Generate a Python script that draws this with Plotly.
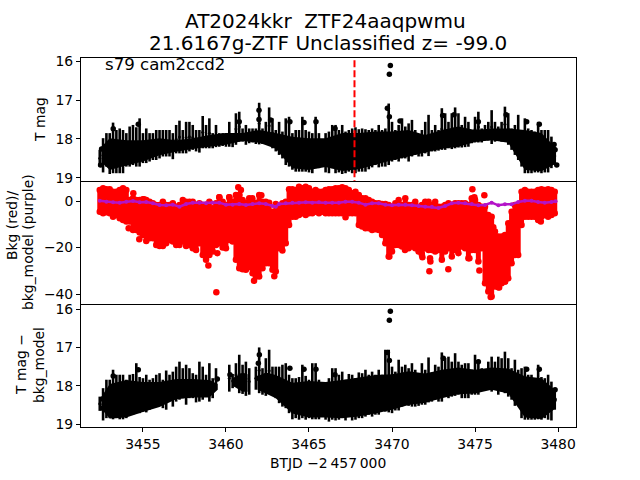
import plotly.graph_objects as go

t = [
3452.4,3452.6,3452.8,3453.0,3453.2,3453.4,3453.6,3453.8,3454.0,3454.2,
3454.4,3454.6,3454.8,3455.0,3455.2,3455.4,3455.6,3455.8,3456.0,3456.2,
3456.4,3456.6,3456.8,3457.0,3457.2,3457.4,3457.6,3457.8,3458.0,3458.2,
3458.4,3458.6,3458.8,3459.0,3459.2,3459.4,3459.6,3459.8,3460.0,3460.2,
3460.4,3460.6,3460.8,3461.0,3461.2,3461.4,3461.6,3461.8,3462.0,3462.2,
3462.4,3462.6,3462.8,3463.0,3463.2,3463.4,3463.6,3463.8,3464.0,3464.2,
3464.4,3464.6,3464.8,3465.0,3465.2,3465.4,3465.6,3465.8,3466.0,3466.2,
3466.4,3466.6,3466.8,3467.0,3467.2,3467.4,3467.6,3467.8,3468.0,3468.2,
3468.4,3468.6,3468.8,3469.0,3469.2,3469.4,3469.6,3469.8,3470.0,3470.2,
3470.4,3470.6,3470.8,3471.0,3471.2,3471.4,3471.6,3471.8,3472.0,3472.2,
3472.4,3472.6,3472.8,3473.0,3473.2,3473.4,3473.6,3473.8,3474.0,3474.2,
3474.4,3474.6,3474.8,3475.0,3475.2,3475.4,3475.6,3475.8,3476.0,3476.2,
3476.4,3476.6,3476.8,3477.0,3477.2,3477.4,3477.6,3477.8,3478.0,3478.2,
3478.4,3478.6,3478.8,3479.0,3479.2,3479.4,3479.6,3479.8]

mag_bright = [
18.28,17.98,17.85,17.85,17.58,17.77,17.73,17.77,17.85,17.68,
17.64,17.70,17.47,17.85,17.73,17.85,17.85,17.77,17.77,17.77,
17.77,17.77,17.85,17.64,17.53,17.77,17.56,17.56,17.64,17.77,
17.77,17.41,17.64,17.47,17.85,17.64,17.85,17.85,17.85,17.56,
17.85,17.34,17.30,17.73,17.64,17.73,17.73,17.73,17.07,17.73,
17.56,17.19,17.47,17.77,17.56,17.81,17.47,17.43,17.85,17.77,
17.77,17.43,17.77,17.81,17.85,17.43,17.85,18.11,17.85,17.81,
17.64,17.64,17.77,17.64,17.81,17.77,17.73,17.70,17.75,17.73,
17.75,17.77,17.73,17.77,17.64,17.77,17.73,17.09,17.56,17.77,
17.64,17.47,17.68,17.60,17.51,17.77,18.03,17.77,17.56,17.38,
17.77,17.64,17.77,17.21,17.34,17.56,17.34,17.19,17.34,17.64,
17.43,17.56,17.77,17.43,17.30,17.73,17.64,17.56,17.26,17.56,
17.68,17.56,17.17,17.34,17.73,17.64,17.38,17.77,17.47,17.73,
17.77,17.81,17.56,17.77,17.77,17.77,17.94,18.20]

mag_faint = [
18.71,18.86,18.71,18.90,18.88,18.88,18.88,18.88,18.71,18.71,
18.67,18.71,18.71,18.62,18.62,18.58,18.54,18.54,18.50,18.45,
18.45,18.45,18.52,18.37,18.37,18.37,18.37,18.32,18.28,18.32,
18.35,18.24,18.24,18.24,18.24,18.21,18.20,18.18,18.20,18.20,
18.21,18.15,18.07,18.07,18.15,18.11,18.09,18.13,18.14,18.13,
18.13,18.13,18.24,18.32,18.41,18.50,18.67,18.71,18.79,18.84,
18.84,18.84,18.84,18.86,18.88,18.75,18.75,18.69,18.86,18.88,
18.75,18.88,18.86,18.90,18.88,18.84,18.88,18.88,18.84,18.84,
18.84,18.78,18.73,18.67,18.73,18.71,18.71,18.67,18.58,18.54,
18.58,18.50,18.50,18.58,18.45,18.41,18.45,18.45,18.37,18.44,
18.32,18.32,18.30,18.28,18.28,18.24,18.26,18.24,18.22,18.22,
18.21,18.20,18.11,18.09,18.09,18.09,18.04,18.04,18.13,18.07,
18.04,18.07,18.07,18.15,18.28,18.41,18.54,18.71,18.88,18.88,
18.88,18.86,18.86,18.88,18.86,18.86,18.75,18.67]

body_t = [3452.5,3453,3454,3455,3456,3457,3458,3459,3460,3461,3462,3463,3464,3465,3466,
          3467,3468,3469,3470,3471,3472,3473,3474,3475,3476,3477,3478,3479,3479.8]
body_bright = [18.20,17.98,18.03,18.03,17.98,18.03,17.98,17.90,17.85,17.85,17.77,17.85,17.94,17.98,17.98,
               17.85,17.85,17.81,17.81,17.77,17.90,17.77,17.68,17.77,17.73,17.73,17.77,17.85,18.20]
body_faint = [18.60,18.80,18.68,18.58,18.42,18.33,18.26,18.20,18.15,18.05,18.10,18.25,18.75,18.80,18.72,
              18.82,18.78,18.66,18.55,18.45,18.35,18.25,18.20,18.08,18.03,18.10,18.80,18.83,18.65]

dots_t = [3453.21,3454.72,3461.99,3461.99,3460.80,3462.69,3463.85,3464.70,3465.42,3466.57,3452.51,3452.45,
          3469.90,3469.84,3469.72,3469.84,3470.48,3473.05,3473.74,3476.87,3478.11,3478.87,3475.20,3479.76,3479.82,3479.92]
dots_mag = [17.74,17.62,17.26,17.50,17.56,17.51,17.56,17.58,17.56,17.73,18.26,18.67,
            16.11,16.34,17.21,17.43,17.54,17.40,17.38,17.38,17.56,17.62,17.56,18.14,18.28,18.67]

bkg_top = [
4.72,5.43,5.0,5.0,4.0,4.0,4.72,5.43,4.72,0.43,
1.14,0.43,0.43,0.71,0.43,-0.29,-1.0,-1.72,-1.72,-0.29,
-1.72,-1.72,-1.0,-2.43,-1.72,0.43,-0.29,-0.29,-0.29,-1.72,
-1.0,-1.72,-1.72,-0.29,-3.15,-1.0,1.57,-0.29,-1.72,1.57,
-0.29,2.57,2.57,0.43,-0.72,1.14,-1.0,-0.72,2.57,-0.29,
-0.29,-0.72,-4.58,-1.29,-2.15,-1.0,-0.29,5.0,5.0,4.72,
6.15,5.43,6.15,5.43,4.0,4.72,4.0,4.0,4.72,5.0,
5.0,5.43,
5.43,5.86,5.43,4.72,3.29,4.0,2.57,1.14,
1.14,0.43,-0.29,-1.0,-1.0,-1.29,-1.29,-1.72,-2.43,-1.0,
0.43,-1.72,1.14,-1.72,-1.72,-0.29,-2.43,-1.72,-0.29,-0.29,
-1.72,-0.29,-2.43,-2.43,-1.72,-1.0,-1.72,-1.0,-1.0,-1.0,
-1.0,-1.72,1.14,0.43,-1.72,-2.43,-2.43,-6.01,-6.73,-13.16,
-15.3,-15.3,-14.6,-9.59,-4.58,-1.72,-1.72,4.0,4.72,4.0,
4.0,4.0,4.72,5.0,4.72,5.0,4.72,4.0]

bkg_low = [
-4.58,-5.3,-4.87,-5.3,-6.73,-6.01,-7.44,-8.16,-8.87,-8.87,
-12.45,-12.45,-13.59,-14.6,-17.17,-16.03,-16.03,-18.89,-19.32,-19.32,
-18.17,-16.74,-17.46,-18.89,-18.89,-17.46,-19.32,-18.89,-20.32,-21.03,
-18.17,-23.18,-25.32,-23.18,-21.75,-18.89,-18.17,-20.03,-20.32,-16.74,
-17.46,-25.32,-28.9,-29.33,-29.62,-28.47,-31.05,-32.48,-32.48,-28.9,
-26.75,-26.75,-29.62,-30.33,-20.32,-21.32,-18.17,-10.3,-6.73,-6.73,
-6.01,-5.3,-6.01,-5.3,-5.3,-4.58,-5.3,-4.58,-5.3,-5.3,
-5.3,-5.3,
-5.3,-5.3,-7.01,-5.3,-5.3,-5.3,-10.3,-11.02,
-11.73,-11.73,-12.45,-12.16,-12.45,-14.6,-18.17,-23.89,-21.75,-18.89,
-18.89,-19.6,-20.32,-20.32,-19.6,-20.32,-21.75,-23.18,-20.32,-21.03,
-21.03,-21.75,-21.03,-25.32,-21.75,-20.32,-23.89,-21.03,-22.46,-19.6,
-20.32,-24.61,-21.03,-21.03,-26.04,-20.32,-35.34,-38.9,-41.06,-36.77,
-37.06,-35.34,-34.62,-33.19,-26.75,-23.18,-23.18,-10.3,-6.73,-6.73,
-6.73,-6.73,-8.16,-6.73,-6.01,-6.73,-6.01,-5.3]

bkg_out_t = [3454.14,3454.78,3454.42,3455.06,3459.42,3459.48,3458.94,3462.91,3461.69,3460.74,3460.90,3461.59,3462.13,3460.80,3460.20,3459.60,
             3474.84,3475.56,3474.96,3476.10,3472.29,3472.31,3472.25,3473.39,3471.79,3471.83,3475.26,3474.66,3476.45,3475.94,3476.81,3478.96,3469.84,3470.78]
bkg_out = [-11.73,-16.46,3.29,0.71,-39.2,-22.46,-27.76,-32.33,-34.34,5.86,4.72,1.14,2.43,2.57,1.57,1.57,
           5.0,2.43,1.57,-11.3,-24.61,-26.04,-30.19,-29.33,-22.46,-24.18,-29.9,-24.6,-37.2,-41.3,-34.6,-8.87,-23.89,-21.03]

model_t = [
3452.4,3452.8,3453.2,3453.6,3454.0,3454.4,3454.8,3455.2,3455.6,3456.0,
3456.4,3456.8,3457.2,3457.6,3458.0,3458.4,3458.8,3459.2,3459.6,3460.0,
3460.4,3460.8,3461.2,3461.6,3462.0,3462.4,3462.8,3463.0,3463.2,3463.6,
3464.0,3464.4,3464.8,3465.2,3465.6,3466.0,3466.4,3466.8,
3467.2,3467.6,3468.0,3468.4,3468.8,3469.2,3469.6,3470.0,3470.4,3470.8,
3471.2,3471.6,3472.0,3472.4,3472.8,3473.2,3473.6,3474.0,3474.4,3474.8,
3475.2,3475.6,3476.0,3476.4,3476.8,3477.2,3477.6,3478.0,3478.4,3478.8,
3479.2,3479.6,3479.85]
model = [
0.14,-0.29,-0.57,-0.72,-0.29,0.0,-0.57,-0.43,-1.0,-1.72,
-1.86,-1.57,-2.43,-1.29,-0.72,-0.72,-1.0,-0.72,-0.72,-1.57,
-1.57,-1.29,-1.72,-1.29,-1.0,-1.29,-2.15,-2.43,-1.29,-1.0,
-0.72,-0.72,-0.57,-0.72,-0.57,-0.72,-0.72,-0.72,
-0.29,-0.29,-0.72,-1.57,-1.0,-1.0,-1.57,-1.86,-1.57,-1.57,
-1.86,-2.15,-2.43,-2.43,-3.0,-2.15,-1.0,-0.72,-1.0,-1.29,
-1.86,-1.72,-0.72,-1.86,-1.43,-1.43,-0.43,0.14,0.14,-0.43,
-0.72,-0.43,-0.14]

diff_bright = [
18.28,18.06,17.84,17.84,17.58,17.71,17.71,17.71,17.84,17.71,
17.69,17.41,17.77,17.80,17.71,17.84,17.80,17.71,17.67,17.84,
17.60,17.71,17.63,17.50,17.37,17.54,17.45,17.54,17.67,17.71,
17.37,17.50,17.71,17.41,17.80,17.54,None,None,None,17.45,
17.69,17.41,17.19,17.45,17.37,17.54,None,17.50,17.00,17.54,
17.28,17.06,17.50,17.50,17.50,17.45,17.41,17.71,17.80,17.80,
17.77,17.45,17.74,17.84,17.41,17.41,17.84,18.19,17.93,17.80,
17.54,17.54,
17.71,17.63,17.84,17.69,17.71,17.80,17.65,17.67,
17.58,17.71,17.63,17.71,17.58,17.71,17.06,17.06,17.50,17.63,
17.32,17.50,17.45,17.54,17.41,17.58,17.71,17.41,17.58,17.26,
17.65,17.45,17.50,17.13,17.28,17.24,17.37,17.15,17.37,17.45,
17.41,17.41,17.58,17.19,17.32,17.54,17.58,17.37,17.24,17.37,
17.24,17.28,17.11,17.28,17.54,17.32,17.58,17.54,17.50,17.71,
17.71,17.80,17.45,17.77,17.80,17.71,17.89,18.06]

diff_faint = [
18.65,18.90,18.84,18.84,18.87,18.84,18.87,18.87,18.84,18.75,
18.75,18.71,18.71,18.67,18.69,18.62,18.41,18.32,18.32,18.58,
18.62,18.36,18.54,18.41,18.36,18.32,18.49,18.32,18.32,18.43,
18.41,18.36,18.28,18.41,18.32,18.10,None,None,None,18.15,
18.06,18.03,18.19,18.21,18.26,18.23,None,18.10,18.19,18.23,
18.26,18.15,18.23,18.32,18.45,18.54,18.58,18.71,18.87,18.84,
18.88,18.84,18.88,18.84,18.87,18.87,18.87,18.71,18.88,18.93,
18.88,18.90,
18.88,18.80,18.90,18.75,18.90,18.88,18.84,18.84,
18.80,18.75,18.80,18.75,18.75,18.54,18.67,18.69,18.71,18.64,
18.64,18.54,18.49,18.52,18.54,18.54,18.52,18.49,18.49,18.43,
18.41,18.36,18.41,18.41,18.10,18.32,18.28,18.26,18.23,18.32,
18.32,18.32,18.23,18.23,18.23,18.02,18.10,18.10,18.15,18.10,
18.23,18.15,18.19,18.28,18.36,18.52,18.41,18.84,18.88,18.88,
18.88,18.88,18.87,18.88,18.84,18.88,18.90,18.62]

diff_body_t = [3452.5,3453,3454,3455,3456,3457,3458,3459,3459.5,None,
               3460.4,3461,3461.3,None,
               3461.9,3462.4,3463,3464,3465,3466,3467,3468,3469,3470,3471,3472,3473,3474,3475,3476,3477,3478,3479,3479.8]
diff_body_bright = [18.28,17.95,17.85,17.90,17.90,17.82,17.82,17.85,17.95,None,
                    17.80,17.65,17.70,None,
                    17.75,17.65,17.72,17.92,17.87,17.90,17.85,17.78,17.72,17.70,17.62,17.68,17.58,17.52,17.58,17.52,17.55,17.75,17.80,18.10]
diff_body_faint = [18.60,18.85,18.82,18.68,18.55,18.35,18.30,18.30,18.10,None,
                   18.00,18.15,18.15,None,
                   18.10,18.20,18.32,18.72,18.82,18.82,18.84,18.80,18.72,18.62,18.50,18.44,18.32,18.22,18.20,18.10,18.20,18.82,18.86,18.60]

diff_dots_t = [3453.21,3454.72,3462.01,3461.95,3461.95,3464.70,3465.42,3463.85,3459.48,3460.24,3452.57,3452.57,3466.57,
               3469.90,3469.84,3469.72,3469.84,3478.87,3478.11,3475.20,3473.09,3479.82,3479.76]
diff_dots = [17.74,17.58,17.19,17.41,17.80,17.57,17.57,17.54,17.82,17.71,18.34,18.58,17.71,
             16.06,16.29,17.13,17.34,17.57,17.57,17.37,17.28,18.10,18.36]

event_t = 3467.74
x_ticks = [3455, 3460, 3465, 3470, 3475, 3480]


def bars(xs, hi, lo, color, thick, axis, msize=3):
    kept = [(x, a, b) for x, a, b in zip(xs, hi, lo) if a is not None]
    return go.Scatter(
        x=[k[0] for k in kept],
        y=[(k[1] + k[2]) / 2 for k in kept],
        mode="markers",
        marker=dict(color=color, size=msize),
        error_y=dict(type="data", symmetric=True,
                     array=[abs(k[2] - k[1]) / 2 for k in kept],
                     color=color, thickness=thick, width=0),
        xaxis=axis[0], yaxis=axis[1], showlegend=False, hoverinfo="skip")


def dots(xs, ys, color, size, axis):
    return go.Scatter(x=xs, y=ys, mode="markers", marker=dict(color=color, size=size),
                      xaxis=axis[0], yaxis=axis[1], showlegend=False, hoverinfo="skip")


def body(xs, hi, lo, axis):
    """Solid core of the overlapping error bars, split at data gaps."""
    px, py, sx, sh, sl = [], [], [], [], []
    for x, a, b in list(zip(xs, hi, lo)) + [(None, None, None)]:
        if x is None:
            px += sx + sx[::-1] + [None]
            py += sh + sl[::-1] + [None]
            sx, sh, sl = [], [], []
        else:
            sx.append(x); sh.append(a); sl.append(b)
    return go.Scatter(x=px, y=py, mode="none", fill="toself", fillcolor="black",
                      xaxis=axis[0], yaxis=axis[1], showlegend=False, hoverinfo="skip")


fig = go.Figure()
fig.add_trace(body(body_t, body_bright, body_faint, ("x", "y")))
fig.add_trace(bars(t, mag_bright, mag_faint, "black", 2.6, ("x", "y")))
fig.add_trace(dots(dots_t, dots_mag, "black", 5.5, ("x", "y")))
fig.add_trace(go.Scatter(x=[event_t, event_t], y=[15.98, 19.08], mode="lines",
                         line=dict(color="red", width=2, dash="7px,3px"),
                         xaxis="x", yaxis="y", showlegend=False, hoverinfo="skip"))

fig.add_trace(bars(t, bkg_top, bkg_low, "red", 5, ("x2", "y2"), msize=1))
fig.add_trace(dots(t, bkg_top, "red", 6.5, ("x2", "y2")))
fig.add_trace(dots(t, bkg_low, "red", 6.5, ("x2", "y2")))
fig.add_trace(dots(bkg_out_t, bkg_out, "red", 6.5, ("x2", "y2")))
fig.add_trace(go.Scatter(x=model_t, y=model, mode="lines+markers",
                         line=dict(color="#b414c8", width=2.5),
                         marker=dict(color="#b414c8", size=4),
                         xaxis="x2", yaxis="y2", showlegend=False, hoverinfo="skip"))

fig.add_trace(body(diff_body_t, diff_body_bright, diff_body_faint, ("x3", "y3")))
fig.add_trace(bars(t, diff_bright, diff_faint, "black", 2.6, ("x3", "y3")))
fig.add_trace(dots(diff_dots_t, diff_dots, "black", 5.5, ("x3", "y3")))

H = 480.0
W = 640.0
xdom = [81 / W, 576 / W]
xrange_ = [3451.27, 3481.08]
font = dict(family="DejaVu Sans", size=13.9, color="black")
common_x = dict(range=xrange_, domain=xdom, showline=True, linecolor="black",
                linewidth=1, showgrid=False, zeroline=False)
common_y = dict(showline=True, mirror=True, linecolor="black", linewidth=1, showgrid=False,
                zeroline=False, ticks="outside", ticklen=4, tickcolor="black", tickfont=font)


def ydom(top, bot):
    return [1 - bot / H, 1 - top / H]


fig.update_layout(
    width=640, height=480, margin=dict(l=0, r=0, t=0, b=0, pad=0, autoexpand=False),
    plot_bgcolor="white", paper_bgcolor="white", font=font,
    xaxis=dict(**common_x, anchor="y", mirror=True, showticklabels=False, ticks=""),
    xaxis2=dict(**common_x, anchor="y2", showticklabels=False, ticks=""),
    xaxis3=dict(**common_x, anchor="y3", tickmode="array", tickvals=x_ticks,
                ticktext=[str(v) for v in x_ticks], ticks="outside", ticklen=4,
                tickcolor="black", tickfont=font),
    yaxis=dict(**common_y, domain=ydom(58, 181), range=[19.08, 15.92], anchor="x",
               tickmode="array", tickvals=[16, 17, 18, 19]),
    yaxis2=dict(**common_y, domain=ydom(181, 304), range=[-44.3, 8.6], anchor="x2",
                tickmode="array", tickvals=[0, -20, -40], ticktext=["0", "\u221220", "\u221240"]),
    yaxis3=dict(**common_y, domain=ydom(304, 427), range=[19.07, 15.87], anchor="x3",
                tickmode="array", tickvals=[16, 17, 18, 19]),
)


def note(text, x, y, size=13.9, angle=0, anchor="center"):
    fig.add_annotation(text=text, x=x / W, y=1 - y / H, xref="paper", yref="paper",
                       showarrow=False, textangle=angle, xanchor=anchor, yanchor="middle",
                       font=dict(family="DejaVu Sans", size=size, color="black"))


note("AT2024kkr  ZTF24aaqpwmu", 325, 21, 20)
note("21.6167g-ZTF Unclassified z= -99.0", 328, 43, 20)
note("s79 cam2ccd2", 103, 65, 16.6, anchor="left")
note("T mag", 40, 120, angle=-90)
note("Bkg (red)/", 12, 226, angle=-90)
note("bkg_model (purple)", 28, 242, angle=-90)
note("T mag \u2212", 21, 365, angle=-90)
note("bkg_model", 39, 365, angle=-90)
note("BTJD \u22122\u2009457\u2009000", 328, 463)

fig.write_html("out.html", config={"displayModeBar": False},
               post_script="document.body.style.margin='0';")
